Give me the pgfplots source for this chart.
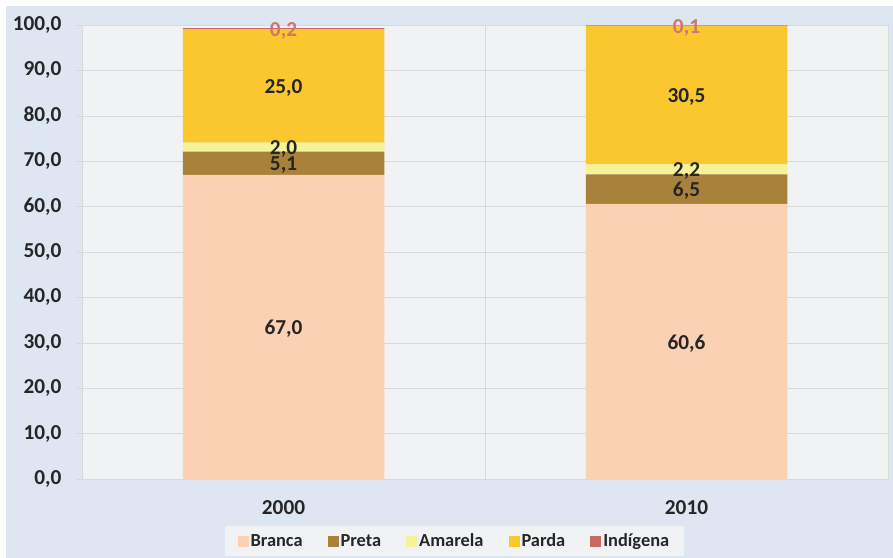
\documentclass[border=0pt]{standalone}
\usepackage{pgfplots}
\pgfplotsset{compat=1.18}
\usepackage{pgfplotstable}
\usepackage{fontspec}
\setmainfont{Carlito}
\definecolor{bgblue}{HTML}{DDE6F1}
\definecolor{plotbg}{HTML}{F1F2F4}
\definecolor{gridc}{HTML}{D9D9D9}
\definecolor{cbranca}{HTML}{FAD1B2}
\definecolor{cpreta}{HTML}{A8813A}
\definecolor{camarela}{HTML}{F6F297}
\definecolor{cparda}{HTML}{FAC82E}
\definecolor{cindigena}{HTML}{C9685F}
\definecolor{lblind}{HTML}{D27570}
\definecolor{txt}{HTML}{262626}
\pgfplotstableread{
x y
0 67.0
1 60.6
}\branca
\pgfplotstableread{
x y
0 5.1
1 6.5
}\preta
\pgfplotstableread{
x y
0 2.0
1 2.2
}\amarela
\pgfplotstableread{
x y
0 25.0
1 30.5
}\parda
\pgfplotstableread{
x y
0 0.2
1 0.1
}\indigena
\begin{document}
\begin{tikzpicture}
\fill[white] (0,0) rectangle (893bp,558bp);
\fill[bgblue] (6bp,0) rectangle (893bp,552bp);
\begin{axis}[
  at={(82bp,79bp)}, anchor=south west,
  scale only axis, width=806bp, height=454bp,
  ybar stacked, bar width=0.5,
  xmin=-0.5, xmax=1.5, ymin=0, ymax=100,
  axis background/.style={fill=plotbg},
  axis line style={draw=gridc},
  xtick={0,1}, xticklabels={2000,2010},
  x tick style={draw=none},
  extra x ticks={-0.5,0.5,1.5}, extra x tick labels={},
  extra x tick style={grid=major, major grid style={draw=gridc}, tick style={draw=gridc}, major tick length=6bp, tick align=outside},
  ytick={0,10,...,100},
  ymajorgrids, major grid style={draw=gridc},
  y tick style={draw=gridc}, major tick length=6bp, tick align=outside,
  ytick pos=left, xtick pos=bottom,
  /pgf/number format/assume math mode=true,
  yticklabel={\pgfmathprintnumber[fixed,fixed zerofill,precision=1,use comma]{\tick}},
  tick label style={font=\fontsize{21.3bp}{25bp}\selectfont\bfseries, text=txt},
  yticklabel style={xshift=-11bp},
  xticklabel style={yshift=-12bp},
  nodes near coords={\pgfmathprintnumber[fixed,fixed zerofill,precision=1,use comma,assume math mode=true]{\pgfplotspointmeta}},
  every node near coord/.append style={font=\fontsize{21.3bp}{25bp}\selectfont\bfseries, text=txt, anchor=center, yshift=-2bp},
  legend style={at={(0.462,-0.1366)}, anchor=center, fill=plotbg, draw=none, legend columns=5,
    font=\fontsize{18.4bp}{21bp}\selectfont\bfseries, text=txt,
    /tikz/every even column/.append style={column sep=23bp},
    inner xsep=13bp, inner ysep=6bp},
  legend image code/.code={\fill[#1] (-4bp,-5.5bp) rectangle (7bp,5.5bp);},
]
\addplot[fill=cbranca, draw=none] table[x=x,y=y,meta=y] {\branca};
\addplot[fill=cpreta, draw=none] table[x=x,y=y,meta=y] {\preta};
\addplot[fill=camarela, draw=none] table[x=x,y=y,meta=y] {\amarela};
\addplot[fill=cparda, draw=none] table[x=x,y=y,meta=y] {\parda};
\addplot[fill=cindigena, draw=none, every node near coord/.append style={text=lblind}] table[x=x,y=y,meta=y] {\indigena};
\legend{Branca,Preta,Amarela,Parda,Indígena}
\end{axis}
\pgfresetboundingbox
\useasboundingbox (0,0) rectangle (893bp,558bp);
\end{tikzpicture}
\end{document}
